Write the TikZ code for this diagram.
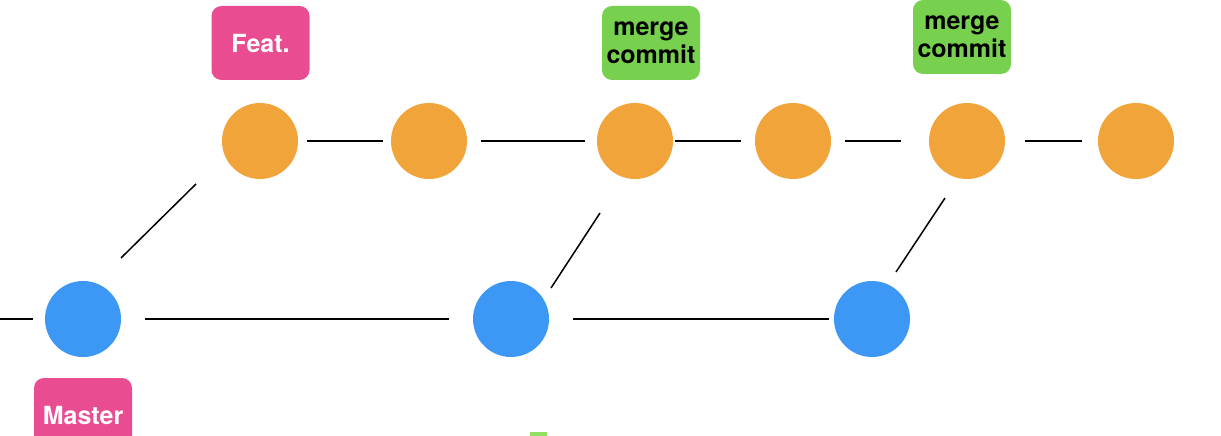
\documentclass[tikz,border=0pt]{standalone}
\usepackage{fontspec}
\setmainfont{TeX Gyre Heros}
\definecolor{cOrange}{HTML}{F0A43A}
\definecolor{cBlue}{HTML}{3D97F5}
\definecolor{cPink}{HTML}{E94C91}
\definecolor{cGreen}{HTML}{77D14E}
\definecolor{cGreenLight}{HTML}{92E061}
\begin{document}
\begin{tikzpicture}[x=1pt,y=-1pt,
  commitA/.style={circle,fill=cOrange,minimum size=76pt,inner sep=0pt,outer sep=0pt},
  commitB/.style={circle,fill=cBlue,minimum size=76pt,inner sep=0pt,outer sep=0pt},
  tagbox/.style={rounded corners=10pt,minimum width=98pt,minimum height=74pt,inner sep=0pt,outer sep=0pt,
     font=\fontsize{25}{28}\selectfont\bfseries,align=center},
  branchtag/.style={tagbox,fill=cPink,text=white},
  mergetag/.style={tagbox,fill=cGreen,text=black},
  link/.style={draw=black,line width=1.5pt}]
\clip (0,0) rectangle (1221,436);
\fill[white] (0,0) rectangle (1221,436);
% commits on feature branch
\node[commitA] (o1) at (260,141) {};
\node[commitA] (o2) at (429,141) {};
\node[commitA] (o3) at (635,141) {};
\node[commitA] (o4) at (793,141) {};
\node[commitA] (o5) at (967,141) {};
\node[commitA] (o6) at (1136,141) {};
% commits on master
\node[commitB] (b1) at (83,319) {};
\node[commitB] (b2) at (511,319) {};
\node[commitB] (b3) at (872,319) {};
% labels
\node[branchtag] (feat) at (260.5,43) {\raisebox{-2pt}{Feat.}};
\node[mergetag] (m1) at (651,43) {merge\\commit};
\node[mergetag] (m2) at (962,37) {merge\\commit};
\node[branchtag] (master) at (83,415) {\raisebox{-3pt}{Master}};
\node[fill=cGreenLight,minimum width=17pt,minimum height=10pt,inner sep=0pt] (g) at (538.5,437) {};
% connectors
\coordinate (left) at (0,319);
\draw[link,shorten >=12pt] (left) -- (b1);
\draw[link,shorten <=24pt,shorten >=24pt] (b1) -- (b2);
\draw[link,shorten <=24pt,shorten >=5pt] (b2) -- (b3);
\draw[link,shorten <=9pt,shorten >=8pt] (o1) -- (o2);
\draw[link,shorten <=14pt,shorten >=12pt] (o2) -- (o3);
\draw[link,shorten <=2pt,shorten >=14pt] (o3) -- (o4);
\draw[link,shorten <=14pt,shorten >=28pt] (o4) -- (o5);
\draw[link,shorten <=20pt,shorten >=16pt] (o5) -- (o6);
\draw[link] ([shift={(38,-61)}]b1.center) -- ([shift={(-64,43)}]o1.center);
\draw[link] ([shift={(40,-31)}]b2.center) -- ([shift={(-35,72)}]o3.center);
\draw[link] ([shift={(24,-47)}]b3.center) -- ([shift={(-22,57)}]o5.center);
\end{tikzpicture}
\end{document}
